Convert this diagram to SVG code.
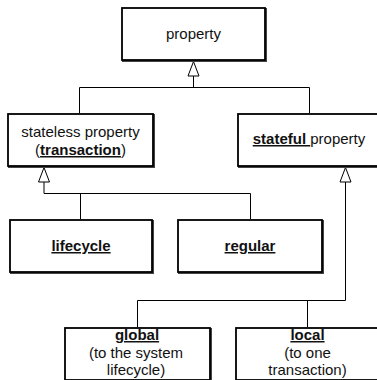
<svg xmlns="http://www.w3.org/2000/svg" width="377" height="380" viewBox="0 0 377 380">
<style>
.box{fill:#fff;stroke:#000;stroke-width:1.8}
.sh{fill:#444}
.t{font-family:"Liberation Sans",Arial,sans-serif;font-size:15px;fill:#111;text-anchor:middle}
.b{font-weight:bold;text-decoration:underline}
.c{fill:none;stroke:#000;stroke-width:1}
.tri{fill:#fff;stroke:#000;stroke-width:1}
</style>
<rect width="377" height="380" fill="#fff"/>
<g id="connectors">
<path class="c" d="M193.5 76V87.5M79.5 113V87.5H309.5V113"/>
<path class="c" d="M44 182V193.5H250.5V219M80.5 193.5V219"/>
<path class="c" d="M345.5 182V300.5H137.5V327M307.5 300.5V327"/>
<polygon class="tri" points="193.5,61.5 188,76 199,76"/>
<polygon class="tri" points="44,167.5 38.5,182 49.5,182"/>
<polygon class="tri" points="345.5,167.5 340,182 351,182"/>
</g>
<g id="property">
<rect class="sh" x="122" y="8" width="145" height="54"/>
<rect class="box" x="122" y="8" width="143" height="52"/>
<text class="t" x="193.5" y="38.5">property</text>
</g>
<g id="stateless">
<rect class="sh" x="8" y="114" width="147" height="54"/>
<rect class="box" x="8" y="114" width="145" height="52"/>
<text class="t" x="80.5" y="137">stateless property</text>
<text class="t" x="80.5" y="155">(<tspan class="b">transaction</tspan>)</text>
</g>
<g id="stateful">
<rect class="sh" x="238" y="114" width="147" height="54"/>
<rect class="box" x="238" y="114" width="145" height="52"/>
<text class="t" x="309" y="144"><tspan class="b">stateful </tspan>property</text>
</g>
<g id="lifecycle">
<rect class="sh" x="10" y="220" width="144" height="54"/>
<rect class="box" x="10" y="220" width="142" height="52"/>
<text class="t b" x="81" y="251">lifecycle</text>
</g>
<g id="regular">
<rect class="sh" x="178" y="220" width="146" height="54"/>
<rect class="box" x="178" y="220" width="144" height="52"/>
<text class="t b" x="250" y="251">regular</text>
</g>
<g id="global">
<rect class="sh" x="65" y="328" width="147" height="54"/>
<rect class="box" x="65" y="328" width="145" height="52"/>
<text class="t b" x="137" y="340">global</text>
<text class="t" x="136" y="357.5">(to the system</text>
<text class="t" x="136" y="375">lifecycle)</text>
</g>
<g id="local">
<rect class="sh" x="236" y="328" width="147" height="54"/>
<rect class="box" x="236" y="328" width="145" height="52"/>
<text class="t b" x="307.5" y="340">local</text>
<text class="t" x="307.5" y="357.5">(to one</text>
<text class="t" x="307.5" y="375">transaction)</text>
</g>
</svg>
